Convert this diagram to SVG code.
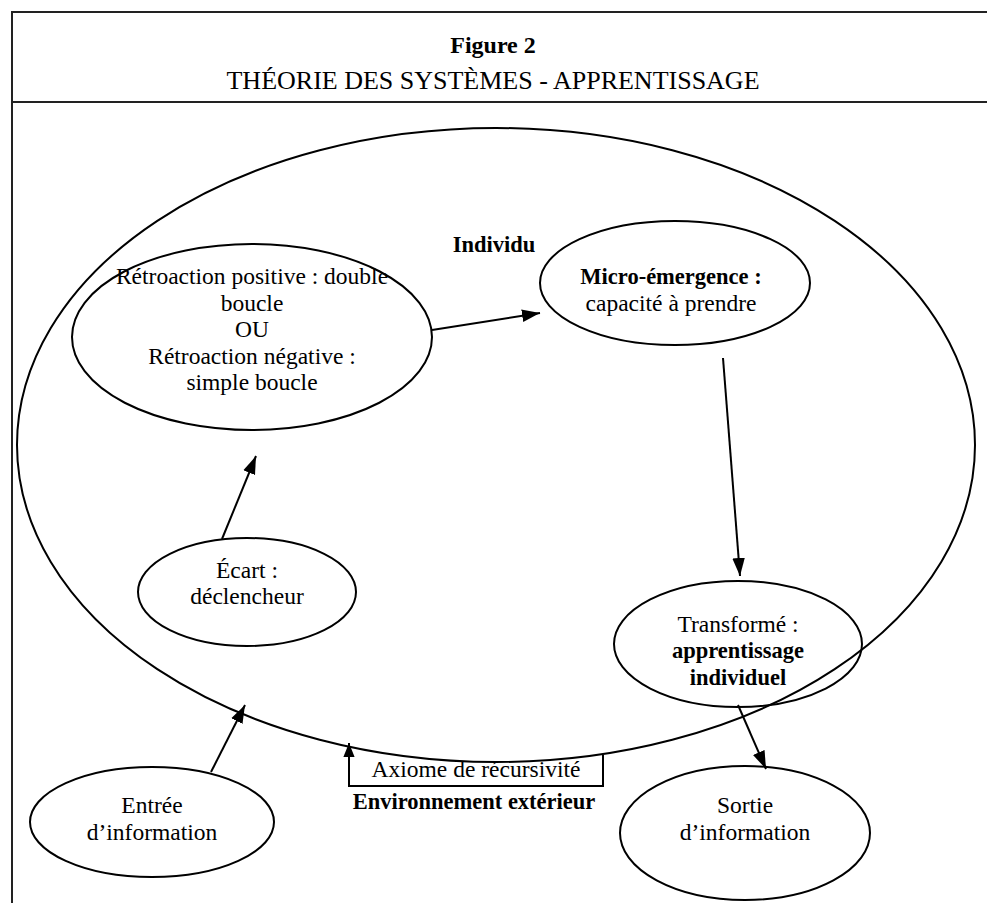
<svg xmlns="http://www.w3.org/2000/svg" width="987" height="903" viewBox="0 0 987 903">
<defs>
<style>
.e{fill:none;stroke:#000;stroke-width:2}
.t{font-family:"Liberation Serif",serif;font-size:23.5px;text-anchor:middle;fill:#000}
.b{font-weight:bold;font-size:22.5px}
.c{fill:none;stroke:#000;stroke-width:2}
</style>
<marker id="ah" viewBox="0 0 10 10" refX="10" refY="5" markerWidth="14" markerHeight="14" markerUnits="userSpaceOnUse" orient="auto"><path d="M0,1 L10,5 L0,9 z" fill="#000"/></marker>
<marker id="ah2" viewBox="0 0 10 10" refX="10" refY="5" markerWidth="18" markerHeight="18" markerUnits="userSpaceOnUse" orient="auto"><path d="M0,1.5 L10,5 L0,8.5 z" fill="#000"/></marker>
</defs>
<rect width="987" height="903" fill="#fff"/>
<g id="frame">
<path d="M12,903 V12 H990" fill="none" stroke="#222" stroke-width="2"/>
<line x1="12" y1="102" x2="990" y2="102" stroke="#222" stroke-width="2"/>
<text class="t b" x="493" y="53" style="font-size:24px">Figure 2</text>
<text class="t" x="493" y="89" style="font-size:26px">THÉORIE DES SYSTÈMES - APPRENTISSAGE</text>
</g>
<g id="individu">
<ellipse class="e" cx="496" cy="445" rx="479" ry="317"/>
<text class="t b" x="494" y="252">Individu</text>
</g>
<g id="retroaction">
<ellipse class="e" cx="252" cy="337" rx="180" ry="93"/>
<text class="t" x="252" y="284">Rétroaction positive : double</text>
<text class="t" x="252" y="311">boucle</text>
<text class="t" x="252" y="337">OU</text>
<text class="t" x="252" y="364">Rétroaction négative :</text>
<text class="t" x="252" y="390">simple boucle</text>
</g>
<g id="micro">
<ellipse class="e" cx="675" cy="283" rx="135" ry="62"/>
<text class="t b" x="671" y="284">Micro-émergence :</text>
<text class="t" x="671" y="311">capacité à prendre</text>
</g>
<g id="transforme">
<ellipse class="e" cx="738" cy="644" rx="124" ry="63"/>
<text class="t" x="738" y="632">Transformé :</text>
<text class="t b" x="738" y="658">apprentissage</text>
<text class="t b" x="738" y="685">individuel</text>
</g>
<g id="ecart">
<ellipse class="e" cx="247" cy="592" rx="109" ry="54"/>
<text class="t" x="247" y="578">Écart :</text>
<text class="t" x="247" y="604">déclencheur</text>
</g>
<g id="entree">
<ellipse class="e" cx="152" cy="822" rx="122" ry="55"/>
<text class="t" x="152" y="813">Entrée</text>
<text class="t" x="152" y="840">d’information</text>
</g>
<g id="sortie">
<ellipse class="e" cx="745" cy="833" rx="125" ry="67"/>
<text class="t" x="745" y="813">Sortie</text>
<text class="t" x="745" y="840">d’information</text>
</g>
<g id="env">
<text class="t" x="476" y="777">Axiome de récursivité</text>
<text class="t b" x="474" y="809">Environnement extérieur</text>
</g>
<g id="connectors">
<line class="c" x1="222" y1="539" x2="256" y2="456" marker-end="url(#ah2)"/>
<line class="c" x1="432" y1="330" x2="540" y2="313" marker-end="url(#ah2)"/>
<line class="c" x1="723" y1="358" x2="740" y2="576" marker-end="url(#ah2)"/>
<line class="c" x1="211" y1="772" x2="245" y2="705" marker-end="url(#ah2)"/>
<line class="c" x1="738" y1="705" x2="766" y2="769" marker-end="url(#ah2)"/>
<path class="c" d="M603,755 V786 H349 V743" marker-end="url(#ah)"/>
</g>
</svg>
